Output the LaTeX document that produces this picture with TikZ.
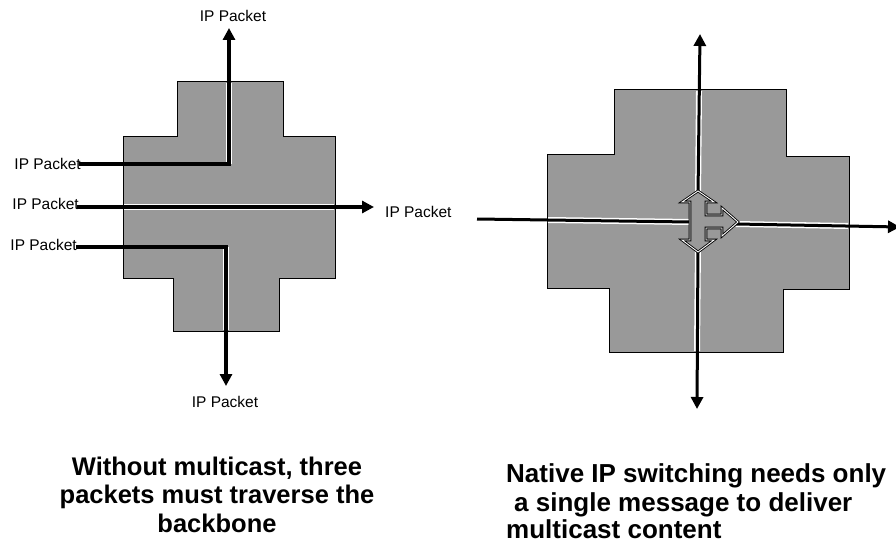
\documentclass[tikz,border=0pt]{standalone}
\usepackage{fontspec}
\setmainfont{Liberation Sans}
\usetikzlibrary{arrows.meta}
\tikzset{
  crossfill/.style={fill=black!40, draw=black, line width=1pt, line join=miter},
  halo/.style={draw=white, line width=6pt},
  flow/.style={line width=3.2pt, -{Triangle[length=12pt,width=12pt]}},
  flowplain/.style={line width=3.2pt},
  lbl/.style={font=\fontsize{15.5}{17}\selectfont, inner sep=0pt},
  capc/.style={font=\bfseries\fontsize{25.5}{28}\selectfont, anchor=base, inner sep=0pt},
  capl/.style={font=\bfseries\fontsize{26}{28}\selectfont, anchor=base west, inner sep=0pt},
  icon/.style={fill=black!40, draw=black, line width=2.6pt, line join=miter, postaction={draw=white, line width=0.9pt}}
}
\begin{document}
\begin{tikzpicture}[x=1pt,y=-1pt]
\useasboundingbox (0,0) rectangle (896,548);
% ---------- left cross ----------
\path[crossfill] (177,82) -- (283,82) -- (283,137) -- (335,137) -- (335,278) -- (279,278)
  -- (279,331) -- (173,331) -- (173,278) -- (123,278) -- (123,137) -- (177,137) -- cycle;
% labels
\node[lbl, anchor=east] (l1) at (81,164) {IP Packet};
\node[lbl, anchor=east] (l2) at (79,204) {IP Packet};
\node[lbl, anchor=east] (l3) at (77,245) {IP Packet};
\node[lbl] (top) at (233,16) {IP Packet};
\node[lbl, anchor=west] (rgt) at (385,212) {IP Packet};
\node[lbl] (bot) at (225,402) {IP Packet};
\coordinate (a1s) at (79,164);
\coordinate (a1c) at (229,164);
\coordinate (a1e) at (229,28);
\coordinate (a2s) at (77,207);
\coordinate (a2e) at (374,207);
\coordinate (a3s) at (76,247);
\coordinate (a3c) at (226,247);
\coordinate (a3e) at (226,386);
% halos
\draw[halo] (124,207) -- (334,207);
\draw[halo] (a1c) -- (229,83);
\draw[halo] (a3c) -- (226,330);
% flows
\draw[flow] (a1s) -- (a1c) -- (a1e);
\draw[flow] (a2s) -- (a2e);
\draw[flow] (a3s) -- (a3c) -- (a3e);
% ---------- right cross ----------
\path[crossfill] (614,90) -- (786,90) -- (786,157) -- (849,157) -- (849,289) -- (783,289)
  -- (783,352) -- (609,352) -- (609,288) -- (547,288) -- (547,155) -- (614,155) -- cycle;
\coordinate (rl) at (477,219);
\coordinate (rr) at (900,227);
\coordinate (rt) at (700,34);
\coordinate (rb) at (697,409);
\draw[halo] (548,220) -- (690,222);
\draw[halo] (736,224) -- (848,226);
\draw[halo] (699,91) -- (698,200);
\draw[halo] (698,245) -- (697,351);
\draw[flowplain, line width=3pt] (rl) -- (690,222);
\draw[flow, line width=3pt] (736,224) -- (rr);
\draw[flow, line width=3pt] (698,195) -- (rt);
\draw[flow, line width=3pt] (698,245) -- (rb);
% three-way block arrow
\path[icon] (698,191) -- (714,202) -- (706,202) -- (706,215) -- (722,215) -- (722,208)
  -- (738,222) -- (722,236) -- (722,228) -- (706,228) -- (706,240) -- (714,240)
  -- (698,252) -- (682,240) -- (690,240) -- (690,202) -- (682,202) -- cycle;
% ---------- captions ----------
\node[capc] (capL1) at (217,475) {Without multicast, three};
\node[capc] (capL2) at (217,503) {packets must traverse the};
\node[capc] (capL3) at (217,532) {backbone};
\node[capl] (capR1) at (506,482) {Native IP switching needs only};
\node[capl] (capR2) at (514,511) {a single message to deliver};
\node[capl] (capR3) at (506,538) {multicast content};
\end{tikzpicture}
\end{document}
